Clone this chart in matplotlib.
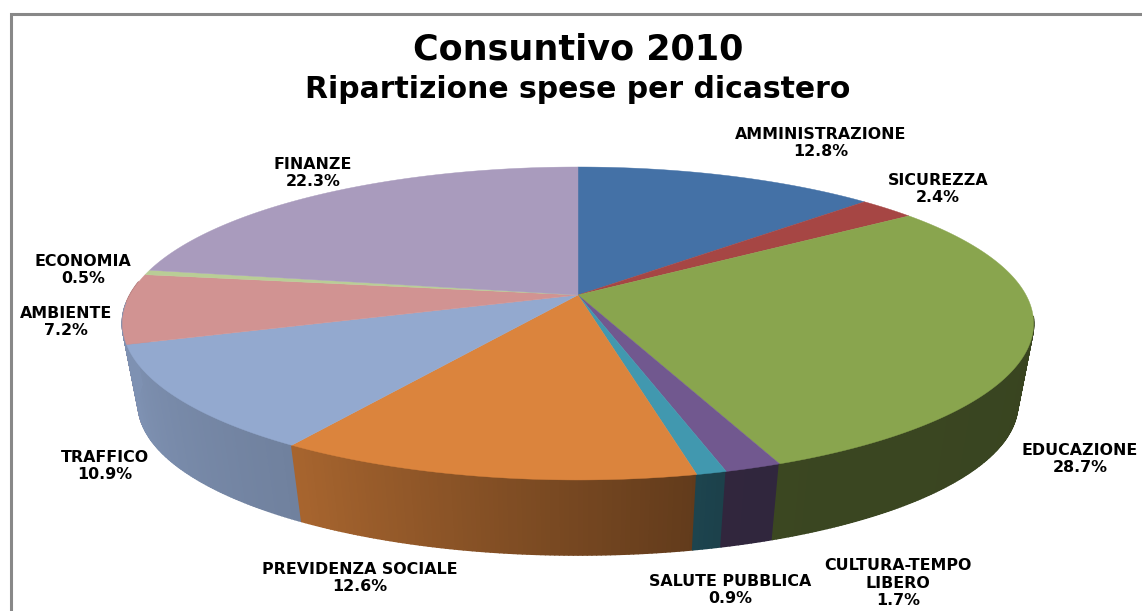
import numpy as np
import matplotlib
matplotlib.use("Agg")
import matplotlib.pyplot as plt
from matplotlib.patches import Polygon
from matplotlib.collections import PolyCollection
from matplotlib.colors import to_rgb

names = ["AMMINISTRAZIONE", "SICUREZZA", "EDUCAZIONE", "CULTURA-TEMPO\nLIBERO", "SALUTE PUBBLICA",
         "PREVIDENZA SOCIALE", "TRAFFICO", "AMBIENTE", "ECONOMIA", "FINANZE"]
shares = [12.8, 2.4, 28.7, 1.7, 0.9, 12.6, 10.9, 7.2, 0.5, 22.3]
colors = ["#4471A6", "#A64644", "#89A54E", "#71588F", "#4198AF",
          "#DB843D", "#93A9CF", "#D19392", "#B9CD96", "#A99BBD"]
# label centres, pixels of the picture
label_x = [821, 938, 1080, 898, 730, 360, 105, 66, 83, 313]
label_y = [143, 189, 459, 583, 590, 578, 466, 322, 270, 173]

W, H = 1142, 611

# perspective of the disc
cx, cy = 578, 295
a, b, k = 448.0, 151.3, 0.182
wall_scale, wall_drop = 0.965, 81.5


def top_ring(theta):
    # theta in degrees, clockwise from 12 o'clock
    u = np.sin(np.radians(theta))
    v = np.cos(np.radians(theta))
    d = 1 + k * v
    return cx + a * u / d, cy - b * v / d


def bottom_ring(theta):
    x, y = top_ring(theta)
    return cx + (x - cx) * wall_scale, cy + (y - cy) * wall_scale + wall_drop


def wall_shade(theta):
    return np.interp(theta, [60, 165, 212, 252, 290], [0.40, 0.43, 0.76, 0.86, 0.86])


fig = plt.figure(figsize=(W / 100, H / 100), dpi=100)
ax = fig.add_axes([0, 0, 1, 1])
ax.set_xlim(0, W)
ax.set_ylim(H, 0)
ax.axis("off")

edges = np.concatenate([[0], np.cumsum(shares)]) * 3.6

# side walls first, top goes over them
for i in range(len(shares)):
    t0, t1 = max(edges[i], 98), min(edges[i + 1], 275)
    if t1 <= t0:
        continue
    # traffico wall runs on round the rim, only a sliver of ambiente shows there
    if names[i] == "TRAFFICO":
        t1 += 15
    tt = np.linspace(t0, t1, max(int((t1 - t0) * 2), 2) + 1)
    xt, yt = top_ring(tt)
    xb, yb = bottom_ring(tt)
    quads = []
    fc = []
    for j in range(len(tt) - 1):
        quads.append([(xt[j], yt[j]), (xt[j + 1], yt[j + 1]), (xb[j + 1], yb[j + 1]), (xb[j], yb[j])])
        f = wall_shade(0.5 * (tt[j] + tt[j + 1]))
        fc.append(tuple(c * f for c in to_rgb(colors[i])))
    ax.add_collection(PolyCollection(quads, facecolors=fc, edgecolors=fc, linewidths=1.2,
                                     zorder=2 - i * 0.01))

for i in range(len(shares)):
    tt = np.linspace(edges[i], edges[i + 1], max(int(shares[i] * 8), 3))
    xs, ys = top_ring(tt)
    pts = np.column_stack([np.r_[cx, xs], np.r_[cy, ys]])
    ax.add_patch(Polygon(pts, closed=True, facecolor=colors[i], edgecolor=colors[i], lw=0.3, zorder=3))

for name, val, x, y in zip(names, shares, label_x, label_y):
    ax.text(x, y, "%s\n%.1f%%" % (name, val), ha="center", va="center", fontsize=11.4,
            family="DejaVu Sans", weight="bold", linespacing=1.2, color="black", zorder=5)

ax.text(578, 50, "Consuntivo 2010", ha="center", va="center", fontsize=25.2, weight="bold", family="DejaVu Sans")
ax.text(578, 90, "Ripartizione spese per dicastero", ha="center", va="center", fontsize=21.5, weight="bold",
        family="DejaVu Sans")

# chart frame, cut off by the screenshot on the right and the bottom
ax.plot([10.5, 10.5, W], [H, 13.5, 13.5], color="#888888", lw=2.2, solid_joinstyle="miter", zorder=6)

fig.savefig("out.png", dpi=100, facecolor="white")
